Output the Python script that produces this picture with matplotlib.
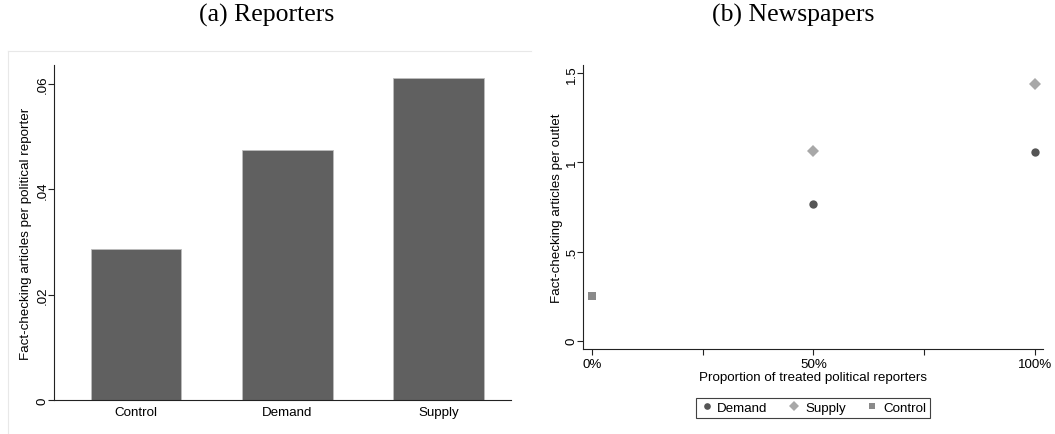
import matplotlib
matplotlib.use("Agg")
import matplotlib.pyplot as plt
from matplotlib.lines import Line2D

# panel (a): reporters
groups = ["Control", "Demand", "Supply"]
per_reporter = [0.0286, 0.0475, 0.0612]

# panel (b): newspapers
share_ticks = [0, 0.5, 1.0]
share_labels = ["0%", "50%", "100%"]
demand_x = [0.5, 1.0]
demand_y = [0.765, 1.061]
supply_x = [0.5, 1.0]
supply_y = [1.063, 1.439]
control_x = [0.0]
control_y = [0.251]

plt.rcParams['font.family'] = ['Liberation Sans', 'DejaVu Sans']
FS = 9.6

fig = plt.figure(figsize=(10.55, 4.35), dpi=100)

def style_axes(ax):
    for s in ["top", "right"]:
        ax.spines[s].set_visible(False)
    for s in ["left", "bottom"]:
        ax.spines[s].set_linewidth(0.8)
        ax.spines[s].set_color("#222222")
    ax.tick_params(direction="out", length=4, width=0.8, labelsize=FS, color="#222222", pad=2.5)
    ax.tick_params(axis="y", pad=0)
    for lab in ax.get_yticklabels():
        lab.set_rotation(90)
        lab.set_va("center")

# faint frame around panel (a), like the Stata graph region
fig.add_artist(Line2D([8/1055, 531/1055], [1-52/435, 1-52/435], color="#e8e8e8", lw=0.8))
fig.add_artist(Line2D([8/1055, 8/1055], [1-52/435, 0], color="#e8e8e8", lw=0.8))

# ---- (a) bar chart
ax1 = fig.add_axes((54/1055, 1-401/435, 457/1055, 335/435))
xs = range(len(groups))
ax1.bar(xs, per_reporter, width=0.6, color="#606060", edgecolor="#bdbdbd", linewidth=0.6)
ax1.set_xlim(-0.543, 2.48)
ax1.set_ylim(0, 0.0636)
ax1.set_xticks(list(xs))
ax1.set_xticklabels(groups)
ax1.set_yticks([0, 0.02, 0.04, 0.06])
ax1.set_yticklabels(["0", ".02", ".04", ".06"])
ax1.set_ylabel("Fact-checking articles per political reporter", fontsize=FS, labelpad=3)
style_axes(ax1)
ax1.tick_params(axis="x", length=0, pad=4)

# ---- (b) scatter
ax2 = fig.add_axes((583.3/1055, 1-350/435, 460/1055, 284/435))
ax2.plot(demand_x, demand_y, "o", color="#555555", ms=6, mew=0, label="Demand")
ax2.plot(supply_x, supply_y, "D", color="#a8a8a8", ms=6, mew=0, label="Supply")
ax2.plot(control_x, control_y, "s", color="#8a8a8a", ms=6, mew=0, label="Control")
ax2.set_xlim(-0.0196, 1.0187)
ax2.set_ylim(-0.0466, 1.547)
ax2.set_xticks(share_ticks)
ax2.set_xticklabels(share_labels)
ax2.set_xticks([0.25, 0.75], minor=True)
ax2.set_yticks([0, 0.5, 1.0, 1.5])
ax2.set_yticklabels(["0", ".5", "1", "1.5"])
ax2.set_ylabel("Fact-checking articles per outlet", fontsize=FS, labelpad=2)
ax2.set_xlabel("Proportion of treated political reporters", fontsize=FS, labelpad=1)
style_axes(ax2)
ax2.tick_params(axis="x", which="minor", length=4, width=0.8, color="#222222")

leg = ax2.legend(loc="upper center", bbox_to_anchor=(813/1055, 1-392/435),
                 bbox_transform=fig.transFigure, ncol=3, fontsize=FS,
                 frameon=True, fancybox=False, edgecolor="#111111",
                 handletextpad=0.3, columnspacing=1.5, handlelength=1.0,
                 borderpad=0.3, markerscale=0.8)
leg.get_frame().set_linewidth(0.8)

# panel titles
fig.text(267/1055, 1-15/435, "(a) Reporters", ha="center", va="center",
         fontsize=18.5, family="Liberation Serif")
fig.text(793/1055, 1-15/435, "(b) Newspapers", ha="center", va="center",
         fontsize=18.5, family="Liberation Serif")

fig.savefig("out.png", dpi=100)
